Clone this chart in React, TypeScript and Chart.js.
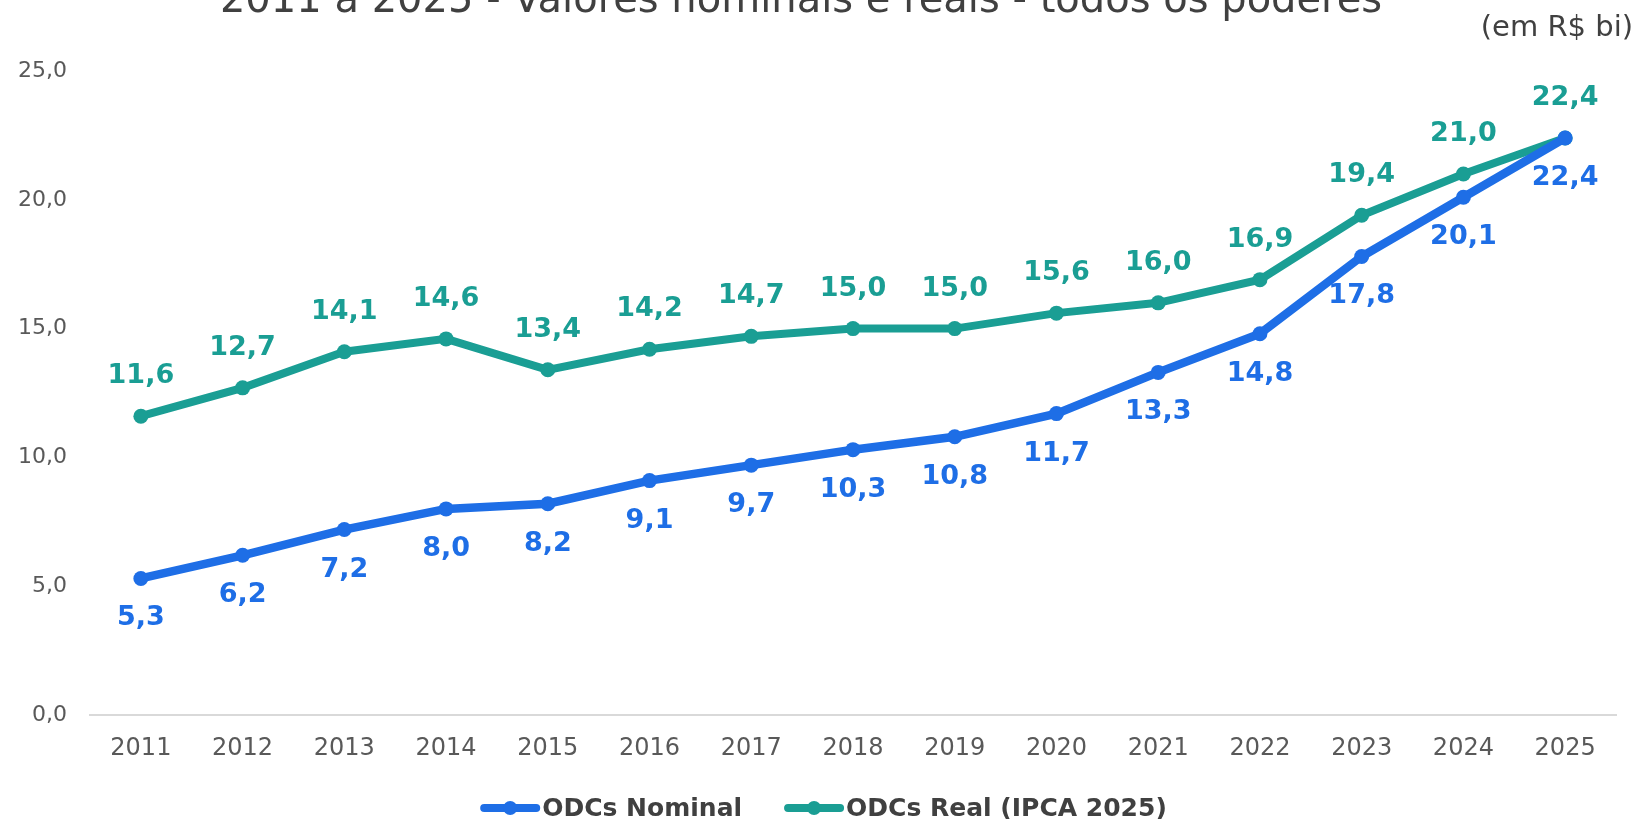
import React, { useEffect, useRef } from "react";
import { Chart, registerables } from "chart.js";

Chart.register(...registerables);

const years = ["2011","2012","2013","2014","2015","2016","2017","2018","2019","2020","2021","2022","2023","2024","2025"];
const nominal = [5.3, 6.2, 7.2, 8.0, 8.2, 9.1, 9.7, 10.3, 10.8, 11.7, 13.3, 14.8, 17.8, 20.1, 22.4];
const real = [11.6, 12.7, 14.1, 14.6, 13.4, 14.2, 14.7, 15.0, 15.0, 15.6, 16.0, 16.9, 19.4, 21.0, 22.4];
const seriesNames = ["ODCs Nominal", "ODCs Real (IPCA 2025)"];
const titleText = "2011 a 2025 - Valores nominais e reais - todos os poderes";
const unitText = "(em R$ bi)";
const yTicksMax = 25;
const yStep = 5;

const BLUE = "#1E6EE6";
const TEAL = "#1A9E94";
const FONT = '"DejaVu Sans", sans-serif';

const fmt = (v: number) => v.toFixed(1).replace(".", ",");

const overlayPlugin = {
  id: "overlay",
  afterDatasetsDraw(chart: any) {
    const ctx = chart.ctx;
    chart.data.datasets.forEach((ds: any, i: number) => {
      const meta = chart.getDatasetMeta(i);
      const off = i === 0 ? 40 : -40;
      ctx.save();
      ctx.font = `bold 27px ${FONT}`;
      ctx.fillStyle = ds.borderColor;
      ctx.textAlign = "center";
      ctx.textBaseline = "middle";
      meta.data.forEach((pt: any, j: number) => {
        ctx.fillText(fmt(ds.data[j]), pt.x, pt.y + off);
      });
      ctx.restore();
    });
  },
  afterDraw(chart: any) {
    const ctx = chart.ctx;
    const W = chart.width;
    ctx.save();
    // title (cut at top)
    ctx.font = `40px ${FONT}`;
    ctx.fillStyle = "#404040";
    ctx.textAlign = "center";
    ctx.textBaseline = "alphabetic";
    ctx.fillText(titleText, 801, 12);
    // unit
    ctx.font = `29px ${FONT}`;
    ctx.textAlign = "right";
    ctx.fillText(unitText, W - 4, 36);
    // legend
    ctx.font = `bold 25px ${FONT}`;
    const markW = 60;
    const gap = 2;
    const spacing = 42;
    const widths = seriesNames.map((n) => ctx.measureText(n).width);
    const total = markW * 2 + gap * 2 + widths[0] + widths[1] + spacing;
    let x = W / 2 + 5 - total / 2;
    const yLine = 808;
    chart.data.datasets.forEach((ds: any, i: number) => {
      ctx.strokeStyle = ds.borderColor;
      ctx.lineWidth = 8;
      ctx.lineCap = "round";
      ctx.beginPath();
      ctx.moveTo(x + 4, yLine);
      ctx.lineTo(x + markW - 4, yLine);
      ctx.stroke();
      ctx.fillStyle = ds.borderColor;
      ctx.beginPath();
      ctx.arc(x + markW / 2, yLine, 7, 0, Math.PI * 2);
      ctx.fill();
      ctx.fillStyle = "#404040";
      ctx.textAlign = "left";
      ctx.fillText(seriesNames[i], x + markW + gap, 816);
      x += markW + gap + widths[i] + spacing;
    });
    ctx.restore();
  },
};

export default function App() {
  const ref = useRef<HTMLCanvasElement>(null);
  useEffect(() => {
    document.body.style.margin = "0";
    const chart = new Chart(ref.current!, {
      type: "line",
      data: {
        labels: years,
        datasets: [
          {
            label: seriesNames[0],
            data: nominal,
            borderColor: BLUE,
            backgroundColor: BLUE,
            borderWidth: 8.5,
            pointRadius: 7.5,
            pointBackgroundColor: BLUE,
            pointBorderWidth: 0,
            tension: 0,
          },
          {
            label: seriesNames[1],
            data: real,
            borderColor: TEAL,
            backgroundColor: TEAL,
            borderWidth: 8,
            pointRadius: 7.5,
            pointBackgroundColor: TEAL,
            pointBorderWidth: 0,
            tension: 0,
          },
        ],
      },
      options: {
        responsive: false,
        animation: false,
        layout: { padding: { top: 71, right: 21, left: 0, bottom: 0 } },
        plugins: {
          legend: { display: false },
          title: { display: false },
          tooltip: { enabled: false },
        },
        scales: {
          x: {
            offset: true,
            grid: { display: false, drawTicks: false },
            border: { display: true, color: "#D9D9D9", width: 2 },
            ticks: {
              color: "#595959",
              font: { family: FONT, size: 24 },
              padding: 19,
              maxRotation: 0,
            },
            afterFit: (s: any) => {
              s.height = 104;
            },
          },
          y: {
            min: 0,
            max: yTicksMax,
            grid: { display: false, drawTicks: false },
            border: { display: false },
            ticks: {
              stepSize: yStep,
              color: "#595959",
              font: { family: FONT, size: 22 },
              padding: 23,
              callback: (v: any) => fmt(Number(v)),
            },
            afterFit: (s: any) => {
              s.width = 90;
            },
          },
        },
      },
      plugins: [overlayPlugin],
    });
    return () => chart.destroy();
  }, []);
  return (
    <div style={{ width: 1637, height: 819 }}>
      <canvas ref={ref} width={1637} height={819} style={{ width: 1637, height: 819, display: "block" }} />
    </div>
  );
}
